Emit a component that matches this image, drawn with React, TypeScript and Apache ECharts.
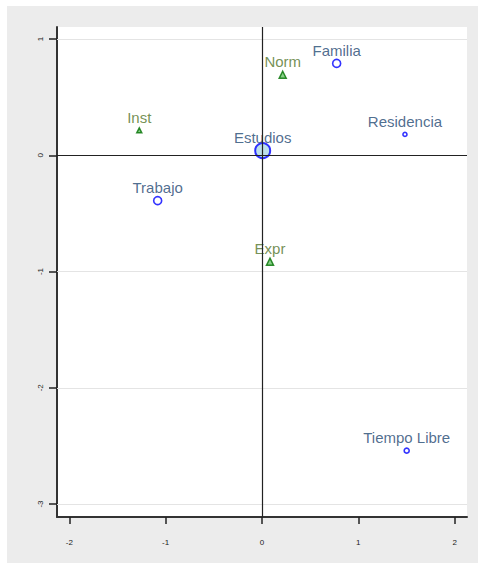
import React, { useEffect, useRef } from "react";
import * as echarts from "echarts";

const circleNames = ["Familia", "Residencia", "Estudios", "Trabajo", "Tiempo Libre"];
const circleX = [0.775, 1.484, 0.007, -1.083, 1.502];
const circleY = [0.791, 0.18, 0.04, -0.39, -2.541];
const circleSize = [8, 4, 15, 8, 5];

const triNames = ["Norm", "Inst", "Expr"];
const triX = [0.215, -1.274, 0.083];
const triY = [0.693, 0.215, -0.915];
const triSize = [7, 5, 7];

const xTicks = [-2, -1, 0, 1, 2];
const yTicks = [1, 0, -1, -2, -3];
const gridY = [1, -1, -2, -3];

const FONT = "'Liberation Sans', Arial, sans-serif";
const BLUE_LABEL = "#1f4872";
const GREEN_LABEL = "#527429";

export default function App() {
  const ref = useRef<HTMLDivElement>(null);
  useEffect(() => {
    if (!ref.current) return;
    const chart = echarts.init(ref.current, undefined, { renderer: "svg" });
    const labelCommon = {
      show: true,
      position: "inside",
      offset: [0, -13],
      fontSize: 15,
      fontFamily: FONT,
      formatter: (p: any) => p.name,
    };
    chart.setOption({
      animation: false,
      backgroundColor: "#ececec",
      grid: {
        left: 50,
        top: 21,
        width: 410,
        height: 490,
        show: true,
        backgroundColor: "#ffffff",
        borderWidth: 0,
      },
      xAxis: {
        type: "value",
        min: -2.128,
        max: 2.128,
        axisLine: { show: true, onZero: false, lineStyle: { color: "#333", width: 2 } },
        axisTick: { show: true, length: 7, customValues: xTicks, lineStyle: { color: "#222", width: 1.5 } },
        axisLabel: {
          customValues: xTicks,
          margin: 21,
          fontSize: 8,
          color: "#222",
          fontFamily: FONT,
        },
        splitLine: { show: false },
      },
      yAxis: {
        type: "value",
        min: -3.112,
        max: 1.104,
        axisLine: { show: true, onZero: false, lineStyle: { color: "#333", width: 2 } },
        axisTick: { show: true, length: 8, customValues: yTicks, lineStyle: { color: "#222", width: 1.5 } },
        axisLabel: {
          customValues: yTicks,
          rotate: 90,
          margin: 13,
          fontSize: 8,
          color: "#222",
          fontFamily: FONT,
        },
        splitLine: { show: false },
      },
      series: [
        {
          type: "scatter",
          data: [],
          z: 1,
          markLine: {
            silent: true,
            symbol: "none",
            label: { show: false },
            lineStyle: { color: "#e4e4e4", width: 1, type: "solid" },
            data: gridY.map((v) => ({ yAxis: v })),
          },
        },
        {
          type: "scatter",
          data: [],
          z: 2,
          markLine: {
            silent: true,
            symbol: "none",
            label: { show: false },
            lineStyle: { color: "#222", width: 1.2, type: "solid" },
            data: [{ yAxis: 0 }, { xAxis: 0 }],
          },
        },
        {
          type: "scatter",
          z: 3,
          symbol: "circle",
          data: circleNames.map((n, i) => ({
            name: n,
            value: [circleX[i], circleY[i]],
            symbolSize: circleSize[i],
            itemStyle: {
              color: n === "Estudios" ? "#add8e6" : "#ffffff",
              borderColor: "#0000ff",
              borderWidth: n === "Estudios" ? 2 : 1.6,
            },
          })),
          label: { ...labelCommon, color: BLUE_LABEL },
        },
        {
          type: "scatter",
          z: 3,
          symbol: "triangle",
          data: triNames.map((n, i) => ({
            name: n,
            value: [triX[i], triY[i]],
            symbolSize: triSize[i],
            itemStyle: {
              color: "#6cc46c",
              borderColor: "#007000",
              borderWidth: 1.5,
            },
          })),
          label: { ...labelCommon, color: GREEN_LABEL },
        },
      ],
    });
    return () => chart.dispose();
  }, []);
  return (
    <div
      ref={ref}
      style={{ position: "absolute", left: 7, top: 6, width: 471, height: 557 }}
    />
  );
}
